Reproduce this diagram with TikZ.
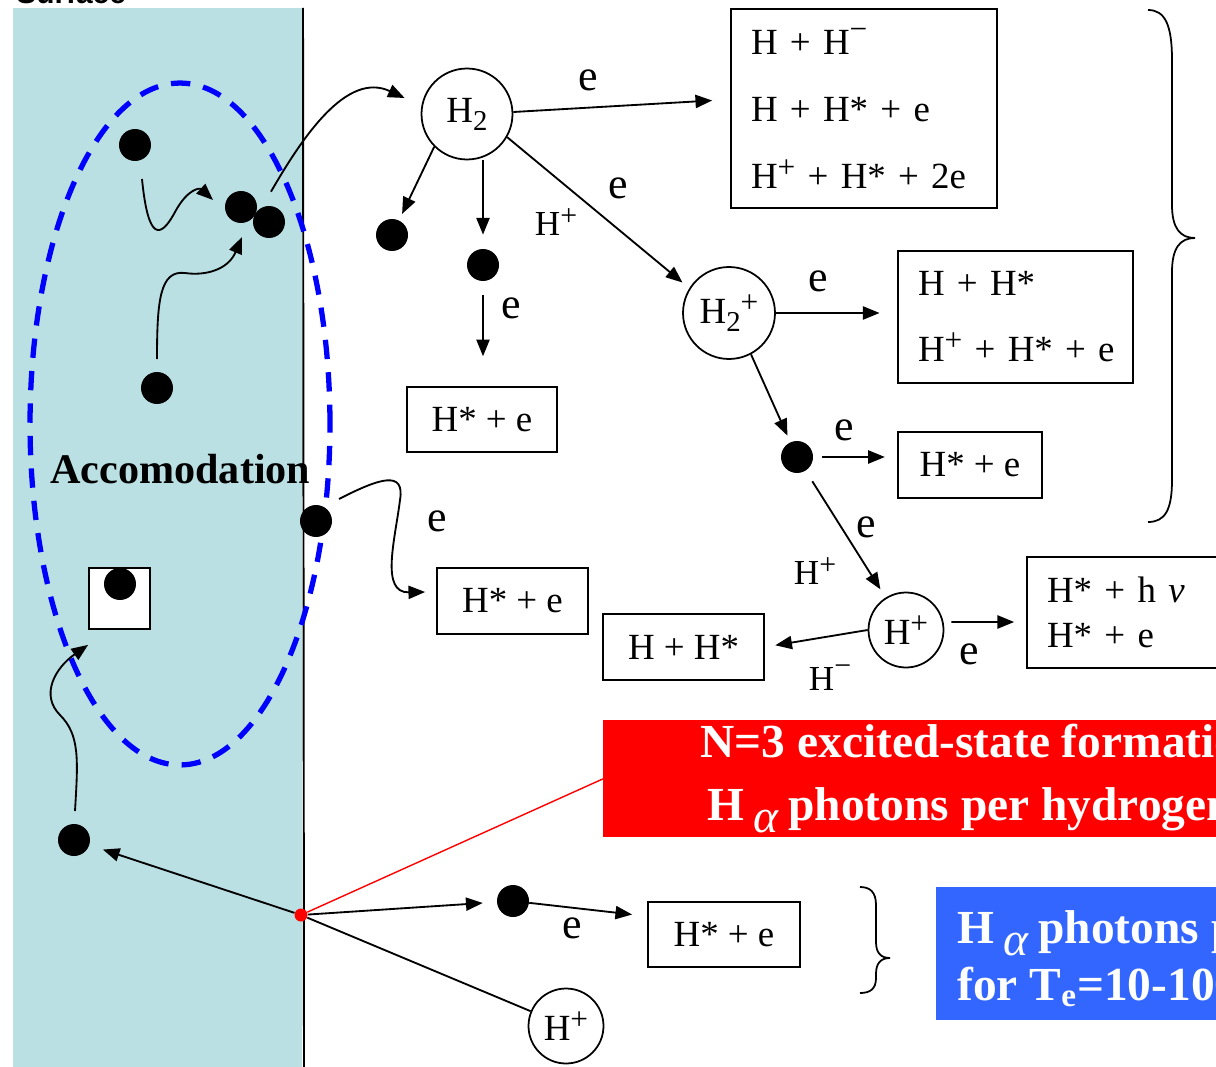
\documentclass[tikz,border=0pt]{standalone}
\usepackage{fontspec}
\usepackage{graphicx}
\setmainfont{Liberation Serif}
\setsansfont{Liberation Sans}
\usetikzlibrary{arrows.meta,calc}
\definecolor{surf}{RGB}{186,224,228}
\definecolor{hblue}{RGB}{51,102,255}
\newcommand{\spp}{\raisebox{0.3em}{\scalebox{0.85}{+}}}
\newcommand{\spm}{\raisebox{0.42em}{\scalebox{0.85}{−}}}
\newcommand{\sbt}{\raisebox{-0.22em}{\scalebox{0.78}{2}}}
\begin{document}
\begin{tikzpicture}[x=0.02cm,y=-0.02cm,
  arr/.style={line width=1.05pt,-{Triangle[length=9.5pt,width=7.5pt]}},
  ln/.style={line width=1.05pt},
  dot/.style={circle,fill=black,minimum size=0.64cm,inner sep=0pt},
  circ/.style={circle,draw,line width=1pt,inner sep=0pt,font=\fontsize{21}{25}\selectfont},
  sbox/.style={draw,line width=1pt,inner sep=0pt,font=\fontsize{21}{25}\selectfont},
  mbox/.style={draw,line width=1pt,inner ysep=0pt,inner xsep=0.4cm,align=left},
  elbl/.style={inner sep=0pt,font=\fontsize{25}{30}\selectfont},
  hlbl/.style={inner sep=0pt,font=\fontsize{20}{24}\selectfont},
  wtxt/.style={anchor=base west,inner sep=0pt,text=white,font=\fontsize{27}{30}\selectfont\bfseries},
  brace/.style={line width=1pt}
]
\useasboundingbox (0,0) rectangle (1216,1067);
\clip (0,0) rectangle (1216,1067);

% surface
\fill[surf] (13,8) rectangle (302,1067);
\draw[line width=1.1pt] (303,8) -- (304,1067);
\node[anchor=base west,inner sep=0pt,font=\fontsize{17}{20}\selectfont\sffamily\bfseries] (surftxt) at (16,4) {Surface};

% accommodation region
\draw[blue,line width=3pt,dash pattern=on 11pt off 7.5pt] (180,424) ellipse [x radius=3cm,y radius=6.82cm];
\node[anchor=base west,inner sep=0pt,font=\fontsize{24}{28}\selectfont\bfseries] (acc) at (50,483) {Accomodation};

% particles
\node[dot] (d1) at (135,145) {};
\node[dot] (d2) at (241,207) {};
\node[dot] (d3) at (269,222) {};
\node[dot] (d4) at (157,388) {};
\node[dot] (d5) at (392,235) {};
\node[dot] (d6) at (483,265) {};
\node[dot] (d7) at (316,521) {};
\node[draw,fill=white,line width=1pt,minimum size=1.22cm,inner sep=0pt] (bx) at (119.5,598.5) {};
\node[dot] (d8) at (120,584) {};
\node[dot] (d9) at (74,840) {};
\node[dot] (d10) at (513,901) {};
\node[dot] (d11) at (797,457) {};
\node[circle,fill=red,minimum size=0.26cm,inner sep=0pt] (rdot) at (301,915) {};

% molecules / ions
\node[circ,minimum size=1.82cm] (H2) at (467,114) {H\sbt};
\node[circ,minimum size=1.84cm] (H2p) at (729,313) {H\sbt\spp};
\node[circ,minimum size=1.5cm] (Hp) at (906,630) {H\spp};
\node[circ,minimum size=1.5cm] (Hp2) at (566,1026) {H\spp};

% product boxes
\node[mbox,text width=4.52cm,minimum height=3.98cm,font=\fontsize{21}{38}\selectfont] (b1) at (864,108.5)
  {\mbox{H + H\spm}\\\mbox{H + H* + e}\\\mbox{H\spp{} + H* + 2e}};
\node[mbox,text width=3.9cm,minimum height=2.64cm,font=\fontsize{21}{37.6}\selectfont] (b2) at (1015.5,317)
  {\mbox{H + H*}\\\mbox{H\spp{} + H* + e}};
\node[sbox,minimum width=2.88cm,minimum height=1.32cm] (b3) at (970,465) {H* + e};
\node[sbox,minimum width=3.22cm,minimum height=1.32cm] (b4) at (683.5,647) {H + H*};
\node[mbox,text width=4.0cm,minimum height=2.22cm,font=\fontsize{21}{25.6}\selectfont] (b5) at (1147,612.5)
  {\mbox{H* + h \textit{ν}}\\\mbox{H* + e}};
\node[sbox,minimum width=3.0cm,minimum height=1.3cm] (b6) at (482,419.5) {H* + e};
\node[sbox,minimum width=3.02cm,minimum height=1.32cm] (b7) at (512.5,601) {H* + e};
\node[sbox,minimum width=3.04cm,minimum height=1.3cm] (b8) at (724,934.5) {H* + e};

% coloured statements
\node[fill=red,minimum width=13.94cm,minimum height=2.34cm,inner sep=0pt,anchor=north west] (redbox) at (603,720) {};
\node[wtxt] (rt1) at (700,757) {N=3 excited-state formation};
\node[wtxt] (rt2) at (707,820) {H\kern5pt\raisebox{-7pt}{\mdseries\itshape α}\kern6pt photons per hydrogen};
\node[fill=hblue,minimum width=7.28cm,minimum height=2.66cm,inner sep=0pt,anchor=north west] (bluebox) at (936,887) {};
\node[wtxt] (bt1) at (957,943) {H\kern5pt\raisebox{-7pt}{\mdseries\itshape α}\kern6pt photons per};
\node[wtxt] (bt2) at (957,1000) {for T\textsubscript{e}=10-100};

% labels
\node[elbl] (e1) at (588,80) {e};
\node[elbl] (e2) at (618,188) {e};
\node[hlbl] (hp1) at (556,222) {H\spp};
\node[elbl] (e3) at (511,308) {e};
\node[elbl] (e4) at (818,281) {e};
\node[elbl] (e5) at (844,430) {e};
\node[elbl] (e6) at (866,527) {e};
\node[hlbl] (hp2) at (815,571) {H\spp};
\node[elbl] (e7) at (969,654) {e};
\node[hlbl] (hm) at (830,678) {H\spm};
\node[elbl] (e8) at (437,521) {e};
\node[elbl] (e9) at (572,928) {e};

% connectors
\draw[arr] ([shift={(2,-14)}]d3.north) to[out=60,in=155] ([shift={(-16,-16)}]H2.west);
\draw[arr] ([shift={(0,-2)}]H2.east) -- ([shift={(-18,-8)}]b1.west);
\draw[arr,shorten >=4pt] (H2.225) -- (d5);
\draw[arr,shorten >=8pt] (H2.south -| d6) -- (d6);
\draw[arr,shorten <=8pt,shorten >=17pt] (d6) -- (d6 |- b6.north);
\draw[arr,shorten >=5pt] (H2.-30) -- (H2p.148);
\draw[arr,shorten >=10pt] (H2p.east) -- (H2p.east -| b2.west);
\draw[arr,shorten >=4pt] (H2p.-62) -- (d11);
\draw[arr,shorten <=5pt,shorten >=7pt] (d11.east) -- (d11.east -| b3.west);
\draw[arr,shorten <=7pt,shorten >=5.5pt] (d11) -- (Hp);
\draw[arr] ([shift={(7,-8)}]Hp.east) -- ([shift={(-12,9.5)}]b5.west);
\draw[arr,shorten >=6pt] (Hp.west) -- (b4.east);

\draw[arr] ([shift={(23,-22)}]d7.center) .. controls (380,478) and (405,470) .. (400,500)
  .. controls (395,540) and (380,593) .. ([shift={(-11,-9)}]b7.west);
\draw[arr] ([shift={(7,34)}]d1.center) .. controls (148,240) and (160,240) .. (175,212)
  .. controls (188,188) and (200,188) .. ([shift={(-28,-7)}]d2.center);
\draw[arr] ([shift={(0,-29)}]d4.center) .. controls (157,300) and (160,270) .. (185,273)
  .. controls (205,276) and (228,270) .. ([shift={(1,30)}]d2.center);
\draw[arr] ([shift={(1,-29)}]d9.center) .. controls (78,760) and (80,735) .. (60,715)
  .. controls (40,695) and (55,668) .. ([shift={(0,15)}]bx.south west);

\draw[arr,shorten >=8pt] (rdot) -- (d9);
\draw[arr,shorten >=8pt] (rdot) -- (d10);
\draw[ln] (rdot) -- (Hp2);
\draw[red,line width=0.8pt] (rdot) -- (redbox.west);
\draw[arr] (d10) -- ([shift={(-15,-20)}]b8.west);

% braces
\draw[brace] (1148,10) .. controls (1165,10) and (1172,25) .. (1172,60) -- (1172,205)
  .. controls (1172,228) and (1180,238) .. (1195,238)
  .. controls (1180,238) and (1172,248) .. (1172,272) -- (1172,480)
  .. controls (1172,510) and (1165,522) .. (1148,522);
\draw[brace] (860,887) .. controls (870,887) and (876,892) .. (876,905) -- (876,942)
  .. controls (876,952) and (880,958) .. (890,958)
  .. controls (880,958) and (876,964) .. (876,974) -- (876,978)
  .. controls (876,989) and (870,993) .. (860,993);
\end{tikzpicture}
\end{document}
